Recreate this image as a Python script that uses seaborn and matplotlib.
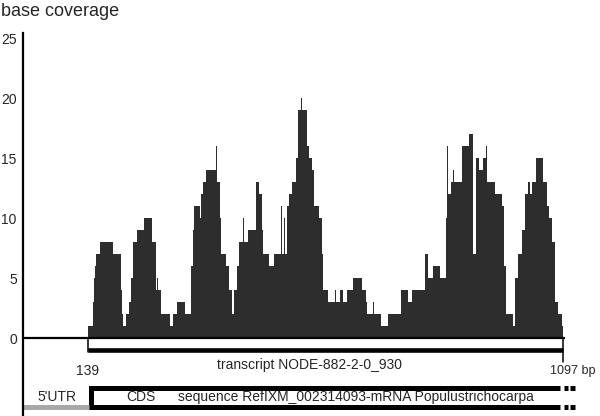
import numpy as np
import pandas as pd
import matplotlib
matplotlib.use("Agg")
import matplotlib.pyplot as plt
import seaborn as sns

# coverage profile: start position (bp) of each step and its coverage
seg_start = [139, 149, 151, 153, 155, 163, 190, 205, 208, 210, 215, 222, 226, 230, 237,
             253, 269, 276, 279, 281, 287, 304, 311, 318, 335, 347, 350, 353, 364, 366,
             372, 377, 398, 400, 405, 407, 417, 423, 429, 433, 440, 444, 452, 454, 462,
             478, 484, 489, 492, 505, 514, 528, 530, 534, 536, 540, 545, 550, 558, 563,
             568, 570, 580, 585, 591, 595, 600, 601, 605, 610, 613, 624, 637, 639, 647,
             654, 661, 674, 691, 699, 702, 713, 715, 729, 745, 770, 785, 792, 819, 824,
             825, 834, 848, 862, 864, 866, 872, 875, 877, 893, 907, 916, 921, 928, 935,
             941, 943, 960, 973, 978, 982, 996, 1000, 1007, 1014, 1020, 1027, 1030, 1035,
             1042, 1056, 1064, 1069, 1074, 1081, 1087, 1094]
coverage = [1, 3, 5, 6, 7, 8, 7, 4, 2, 1, 2, 3, 5, 8, 9,
            10, 8, 4, 5, 4, 2, 1, 2, 3, 2, 6, 9, 11, 10, 12,
            13, 14, 16, 13, 10, 7, 6, 4, 2, 4, 6, 8, 10, 8, 9,
            13, 12, 9, 7, 6, 7, 11, 7, 10, 7, 11, 12, 13, 15, 19,
            20, 19, 16, 15, 14, 11, 12, 11, 10, 7, 4, 3, 4, 3, 4,
            3, 4, 5, 4, 3, 2, 3, 2, 1, 2, 4, 3, 4, 7, 8,
            5, 6, 5, 10, 16, 12, 13, 14, 13, 16, 17, 7, 15, 14, 15,
            16, 13, 12, 11, 6, 2, 1, 5, 7, 9, 12, 13, 12, 13,
            15, 13, 11, 10, 8, 3, 2, 1]
transcript_start = 139
transcript_end = 1097
yticks = [0, 5, 10, 15, 20, 25]

edges = list(seg_start) + [transcript_end]
df = pd.DataFrame({
    "pos": [(a + b) / 2 for a, b in zip(edges[:-1], edges[1:])],
    "cov": coverage,
})

sns.set_style("white")
plt.rcParams['font.family'] = ['Liberation Sans', 'DejaVu Sans']

fig = plt.figure(figsize=(6, 4.16), dpi=100)
ax = fig.add_axes([23 / 600, 0, 577 / 600, 1])

sns.histplot(data=df, x="pos", weights="cov", bins=edges, element="step", fill=True,
             color="#2d2d2d", alpha=1, linewidth=0, ax=ax)

ax.set_xlim(8, 1171.6)
ax.set_ylim(-6.5, 28.17)
ax.set_xlabel("")
ax.set_ylabel("")
ax.set_xticks([])
ax.set_yticks(yticks)
ax.set_yticklabels([str(t) for t in yticks], fontsize=10)
ax.tick_params(axis="y", length=0, pad=4.5)
for s in ["top", "right", "bottom"]:
    ax.spines[s].set_visible(False)
ax.spines["left"].set_linewidth(1.6)
ax.spines["left"].set_color("black")
ax.spines["left"].set_bounds(-6.5, 25.4)

# baseline
ax.plot([8, 1101], [0, 0], color="black", lw=1.6, solid_capstyle="butt")

# transcript track
ax.plot([transcript_start, transcript_end], [-1.04, -1.04], color="black", lw=3.3,
        solid_capstyle="butt")
ax.plot([transcript_start, transcript_start], [0, -1.2], color="black", lw=1.1)
ax.plot([transcript_end, transcript_end], [0, -2.0], color="black", lw=1.1)
ax.text(transcript_start, -2.75, str(transcript_start), ha="center", va="center", fontsize=10)
ax.text(1071, -2.75, f"{transcript_end} bp", ha="left", va="center", fontsize=9)
ax.text(586, -2.25, "transcript NODE-882-2-0_930",
        ha="center", va="center", fontsize=10)

# CDS / sequence track
top, bot = -4.125, -5.75
ax.plot([1091, 146, 146, 1091], [top, top, bot, bot], color="black", lw=3.6,
        solid_joinstyle="miter", solid_capstyle="butt")
for x0, x1 in [(1098, 1108), (1111, 1121)]:
    for yy in (top, bot):
        ax.plot([x0, x1], [yy, yy], color="black", lw=3.6, solid_capstyle="butt")
ax.plot([8, 141], [-5.79, -5.79], color="#a8a8a8", lw=3.6, solid_capstyle="butt")
ax.text(76, -4.89, "5'UTR", ha="center", va="center", fontsize=10)
ax.text(246, -4.89, "CDS", ha="center", va="center", fontsize=10)
ax.text(321, -4.89, "sequence RefIXM_002314093-mRNA Populustrichocarpa",
        ha="left", va="center", fontsize=10)

fig.text(1 / 600, 1 - 12 / 416, "base coverage", ha="left", va="center", fontsize=13)

fig.savefig("out.png", dpi=100)
